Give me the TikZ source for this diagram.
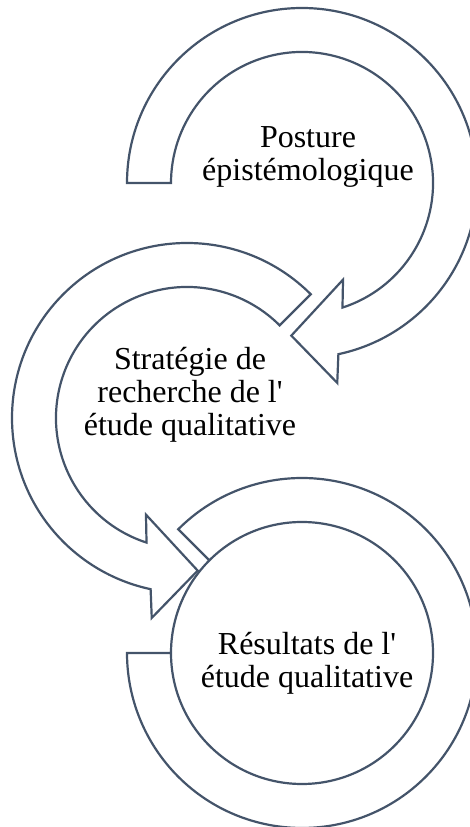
\documentclass[tikz,border=0pt]{standalone}
\usepackage{fontspec}
\setmainfont{Liberation Serif}[Ligatures=TeXOff]
\definecolor{arrline}{HTML}{44546A}
\begin{document}
\begin{tikzpicture}[x=1pt,y=1pt,
  arrowshape/.style={draw=arrline,line width=2.2pt,fill=white,line join=miter},
  lbl/.style={align=center,font=\fontsize{32}{33}\selectfont,text=black,inner sep=0pt}]
\useasboundingbox (0,0) rectangle (470,827);
\coordinate (c1) at (302,644);
\coordinate (c2) at (187,409);
\coordinate (c3) at (302,174);
% circle 1
\draw[arrowshape,shift={(c1)}] (180:175) arc[start angle=180,end angle=-78,radius=175]
  -- (-80:203) -- (-94:153) -- (-67:105) -- (-72:131)
  arc[start angle=-72,end angle=180,radius=131] -- cycle;
% circle 2
\draw[arrowshape,shift={(c2)}] (45:175) arc[start angle=45,end angle=258,radius=175]
  -- (260:203) -- (274:153) -- (247:105) -- (252:131)
  arc[start angle=252,end angle=45,radius=131] -- cycle;
% circle 3
\draw[arrowshape,shift={(c3)}] (135:175) arc[start angle=135,end angle=-180,radius=175]
  -- (180:131) arc[start angle=180,end angle=-225,radius=131] -- cycle;
\node[lbl] (t1) at (308,670) {Posture\\épistémologique};
\node[lbl] (t2) at (190,432) {Stratégie de\\recherche de l'\\étude qualitative};
\node[lbl] (t3) at (307,164) {Résultats de l'\\étude qualitative};
\end{tikzpicture}
\end{document}
